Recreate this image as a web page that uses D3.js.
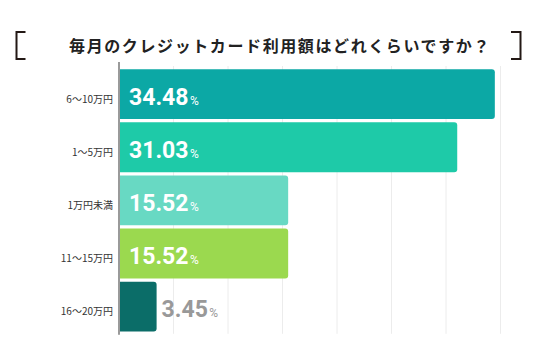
<!DOCTYPE html>
<html>
<head>
<meta charset="utf-8">
<script src="https://cdn.jsdelivr.net/npm/d3@7"></script>
<style>
  body { margin: 0; background: #fff; }
  svg { display: block; }
</style>
</head>
<body>
<div id="canvas"></div>
<script>
"use strict"

/* chart data */
let categories = ["6〜10万円", "1〜5万円", "1万円未満", "11〜15万円", "16〜20万円"];
let values = [34.48, 31.03, 15.52, 15.52, 3.45];
let barColors = ["#0ca8a5", "#1ecaa8", "#68d9c3", "#9bd94f", "#0b6d68"];
let gridTicks = [5, 10, 15, 20, 25, 30, 35];
let title = "毎月のクレジットカード利用額はどれくらいですか？";

/* drawing size */
let svgWidth = 536;
let svgHeight = 353;
let leftEdge = 119;
let rightEdge = 500.5;
let topEdge = 66;
let bottomEdge = 334.8;

let svg = d3.select("#canvas")
    .append("svg")
    .attr("width", svgWidth)
    .attr("height", svgHeight);

/* scales */
let xScale = d3.scaleLinear()
    .domain([0, 35])
    .range([leftEdge, rightEdge]);

let yScale = d3.scaleBand()
    .domain(categories)
    .range([topEdge, bottomEdge])
    .padding(0.06);

/* clip so the bars' left corners stay square at the axis */
svg.append("clipPath")
    .attr("id", "plotClip")
    .append("rect")
    .attr("x", leftEdge)
    .attr("y", 0)
    .attr("width", svgWidth - leftEdge)
    .attr("height", svgHeight);

/* title with brackets */
svg.append("text")
    .attr("x", 280)
    .attr("y", 48)
    .attr("text-anchor", "middle")
    .attr("dominant-baseline", "middle")
    .attr("font-family", "'Noto Sans CJK JP', sans-serif")
    .attr("font-weight", "bold")
    .attr("font-size", 16)
    .attr("letter-spacing", 1.6)
    .attr("fill", "#222")
    .text(title);

svg.append("path")
    .attr("d", "M25.5,32 H16.5 V59 H25.5")
    .attr("fill", "none")
    .attr("stroke", "#231815")
    .attr("stroke-width", 2);

svg.append("path")
    .attr("d", "M511,32 H520.5 V59 H511")
    .attr("fill", "none")
    .attr("stroke", "#231815")
    .attr("stroke-width", 2);

/* vertical grid lines */
svg.selectAll("line.grid")
    .data(gridTicks)
    .join("line")
    .attr("class", "grid")
    .attr("x1", d => xScale(d))
    .attr("x2", d => xScale(d))
    .attr("y1", topEdge)
    .attr("y2", bottomEdge - 1)
    .attr("stroke", "#ececec")
    .attr("stroke-width", 1);

/* bars */
svg.append("g")
    .attr("clip-path", "url(#plotClip)")
    .selectAll("rect.bar")
    .data(values)
    .join("rect")
    .attr("class", "bar")
    .attr("x", xScale(0) - 4)
    .attr("y", (d, i) => yScale(categories[i]))
    .attr("width", d => xScale(d) - xScale(0) + 4)
    .attr("height", yScale.bandwidth())
    .attr("rx", 3)
    .attr("fill", (d, i) => barColors[i]);

/* axis line */
svg.append("line")
    .attr("x1", leftEdge)
    .attr("x2", leftEdge)
    .attr("y1", 62)
    .attr("y2", bottomEdge)
    .attr("stroke", "#9a9a9a")
    .attr("stroke-width", 2);

/* category labels */
svg.selectAll("text.cat")
    .data(categories)
    .join("text")
    .attr("class", "cat")
    .attr("x", 113)
    .attr("y", d => yScale(d) + yScale.bandwidth() / 2 + 6)
    .attr("text-anchor", "end")
    .attr("dominant-baseline", "middle")
    .attr("font-family", "'Noto Sans CJK JP', sans-serif")
    .attr("font-size", 10)
    .attr("fill", "#333")
    .text(d => d);

/* value labels: inside the bar when it is wide, grey outside otherwise */
let valueLabels = svg.selectAll("text.val")
    .data(values)
    .join("text")
    .attr("class", "val")
    .attr("x", d => d > 10 ? xScale(0) + 10 : xScale(d) + 5)
    .attr("y", (d, i) => yScale(categories[i]) + yScale.bandwidth() / 2 + 10.5)
    .attr("font-family", "Roboto, sans-serif")
    .attr("font-weight", "bold")
    .attr("fill", d => d > 10 ? "#fff" : "#999");

valueLabels.append("tspan")
    .attr("font-size", 23)
    .text(d => d.toFixed(2));

valueLabels.append("tspan")
    .attr("font-size", 12)
    .attr("font-weight", "normal")
    .attr("dx", 1.5)
    .text("%");
</script>
</body>
</html>
